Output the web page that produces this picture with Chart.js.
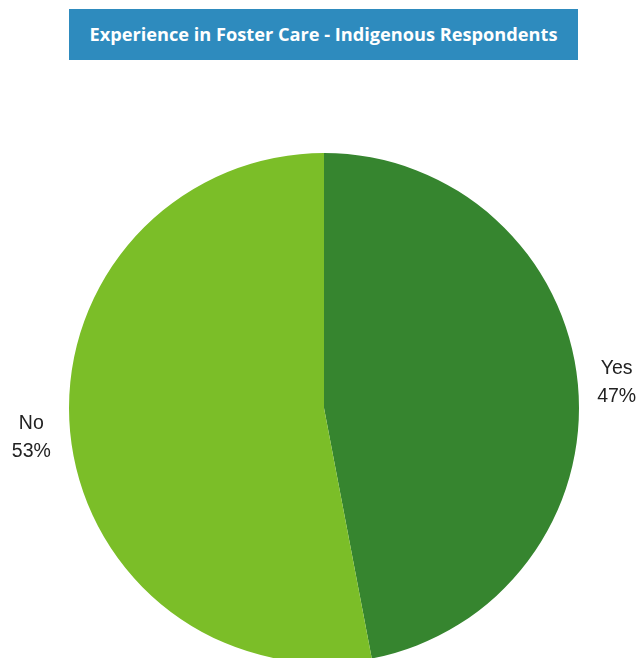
<!DOCTYPE html>
<html>
<head>
<meta charset="utf-8">
<script src="https://cdn.jsdelivr.net/npm/chart.js@4"></script>
<style>
  html, body { margin: 0; padding: 0; background: #fff; }
  #wrap { position: relative; width: 639px; height: 658px; overflow: hidden; }
  #myChart { position: absolute; left: 0; top: 0; }
  #title {
    position: absolute; left: 69px; top: 9px; width: 509px; height: 51px;
    background: #2E8BBE; color: #fff;
    font-family: "Open Sans", sans-serif; font-weight: 700; font-size: 18.2px;
    line-height: 51px; text-align: center;
  }
</style>
</head>
<body>
<div id="wrap">
  <canvas id="myChart" width="639" height="658"></canvas>
  <div id="title">Experience in Foster Care - Indigenous Respondents</div>
</div>
<script>
var labels = ['Yes', 'No'];
var values = [47, 53];
var colors = ['#36852F', '#7BBE28'];

// draws "Yes / 47%" outside each slice
var outsideLabels = {
  id: 'outsideLabels',
  afterDatasetsDraw: function(chart) {
    var ctx = chart.ctx;
    var meta = chart.getDatasetMeta(0);
    var total = values.reduce(function(a, b) { return a + b; }, 0);
    ctx.save();
    ctx.font = '19.5px "Liberation Sans", Arial, sans-serif';
    ctx.fillStyle = '#222';
    ctx.textAlign = 'center';
    ctx.textBaseline = 'middle';
    meta.data.forEach(function(arc, i) {
      var mid = (arc.startAngle + arc.endAngle) / 2;
      var d = arc.outerRadius + 39;
      var x = arc.x + Math.cos(mid) * d;
      var y = arc.y + Math.sin(mid) * d;
      ctx.fillText(labels[i], x, y - 12);
      ctx.fillText(Math.round(values[i] / total * 100) + '%', x, y + 16);
    });
    ctx.restore();
  }
};

var ctx = document.getElementById('myChart').getContext('2d');
var myChart = new Chart(ctx, {
  type: 'pie',
  data: {
    labels: labels,
    datasets: [{
      data: values,
      backgroundColor: colors,
      borderWidth: 0,
      radius: 255,
      clip: false
    }]
  },
  options: {
    responsive: false,
    animation: false,
    layout: { padding: { left: 69, right: 60, top: 158, bottom: 0 } },
    plugins: {
      legend: { display: false },
      tooltip: { enabled: false }
    }
  },
  plugins: [outsideLabels]
});
</script>
</body>
</html>
